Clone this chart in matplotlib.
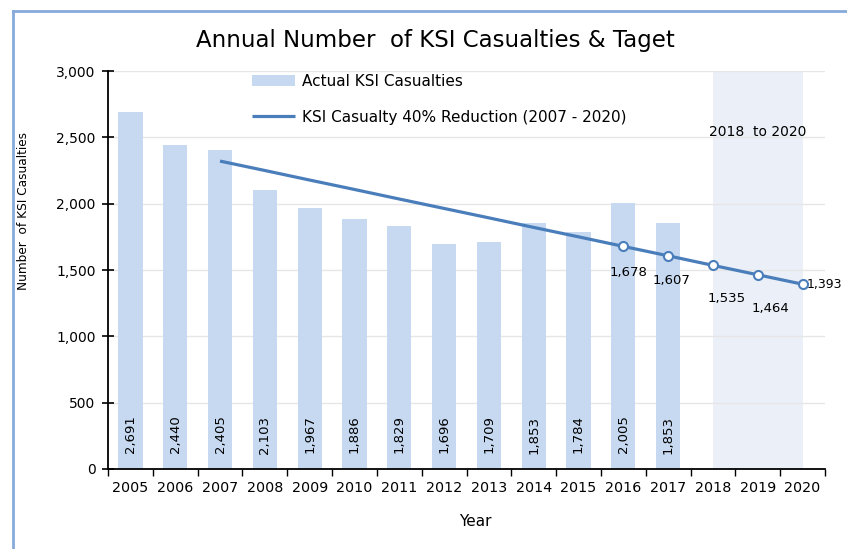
import matplotlib
matplotlib.use("Agg")
import matplotlib.pyplot as plt
import numpy as np
from matplotlib.lines import Line2D

plt.rcParams['font.family'] = ['DejaVu Sans']

years = ['2005', '2006', '2007', '2008', '2009', '2010', '2011', '2012',
         '2013', '2014', '2015', '2016', '2017', '2018', '2019', '2020']
actual = [2691, 2440, 2405, 2103, 1967, 1886, 1829, 1696, 1709, 1853, 1784, 2005, 1853]
actual_labels = ['2,691', '2,440', '2,405', '2,103', '1,967', '1,886', '1,829', '1,696',
                 '1,709', '1,853', '1,784', '2,005', '1,853']
target_years = ['2007', '2008', '2009', '2010', '2011', '2012', '2013', '2014',
                '2015', '2016', '2017', '2018', '2019', '2020']
target = [2321, 2250, 2178, 2107, 2035, 1964, 1893, 1821, 1750, 1678, 1607, 1535, 1464, 1393]
marked_years = ['2016', '2017', '2018', '2019', '2020']
marked_labels = ['1,678', '1,607', '1,535', '1,464', '1,393']
# label offsets in pixels (dx, dy)
label_offsets = [(5, -26), (3, -25), (14, -33), (13, -34), (4, 0)]
label_ha = ['center', 'center', 'center', 'center', 'left']
label_sizes = [9.5, 9.5, 9.5, 9.5, 9]

bar_color = '#C6D9F1'
line_color = '#4A7EBB'
shade_color = '#EBF0F8'

W, H = 847, 549
fig = plt.figure(figsize=(W / 100, H / 100), dpi=100)
ax = fig.add_axes([108 / W, 1 - 469 / H, 717 / W, 398 / H])

x_all = np.arange(len(years))
idx = {y: i for i, y in enumerate(years)}

ax.axvspan(idx['2018'], idx['2020'], ymin=0, ymax=1, color=shade_color, zorder=0.5, lw=0)
ax.set_axisbelow(True)
ax.yaxis.grid(True, color='#E6E6E6', lw=1.0, zorder=0)

bx = x_all[:len(actual)]
bars = ax.bar(bx, actual, width=0.54, color=bar_color, zorder=2, label='Actual KSI Casualties')
for xi, lab in zip(bx, actual_labels):
    ax.text(xi, 260, lab, rotation=90, ha='center', va='center', fontsize=9.5, zorder=5)

tx = [idx[y] for y in target_years]
line, = ax.plot(tx, target, color=line_color, lw=2.3, zorder=3, solid_capstyle='butt',
                label='KSI Casualty 40% Reduction (2007 - 2020)')
mx = [idx[y] for y in marked_years]
my = [target[target_years.index(y)] for y in marked_years]
ax.plot(mx, my, ls='none', marker='o', ms=6.5, mfc='white', mec=line_color, mew=1.5, zorder=4)
for xi, yi, lab, (dx, dy), ha, fs in zip(mx, my, marked_labels, label_offsets, label_ha, label_sizes):
    ax.annotate(lab, (xi, yi), xytext=(dx * 0.72, dy * 0.72), textcoords='offset points',
                ha=ha, va='center', fontsize=fs, zorder=6, annotation_clip=False)

ax.text(idx['2019'], 2540, '2018  to 2020', ha='center', va='center', fontsize=10)

ax.set_xlim(-0.5, len(years) - 0.5)
ax.set_ylim(0, 3000)
ax.set_yticks(np.arange(0, 3001, 500))
ax.set_yticklabels(['0', '500', '1,000', '1,500', '2,000', '2,500', '3,000'])
ax.set_xticks(x_all)
ax.set_xticklabels(years)
ax.set_xticks(np.arange(-0.5, len(years), 1), minor=True)
ax.tick_params(axis='x', which='major', length=0, pad=9, labelsize=10.3)
ax.tick_params(axis='x', which='minor', length=5, width=1, direction='out')
ax.tick_params(axis='y', which='major', length=8, width=1.2, direction='inout', pad=5, labelsize=10)

for s in ['top', 'right']:
    ax.spines[s].set_visible(False)
ax.spines['left'].set_linewidth(1.3)
ax.spines['bottom'].set_linewidth(1.3)

ax.set_ylabel('Number  of KSI Casualties', fontsize=8.7)
ax.yaxis.set_label_coords((30 - 108) / 717, (469 - 211) / 398)
ax.set_xlabel('Year', fontsize=11)
ax.xaxis.set_label_coords((475 - 108) / 717, (469 - 514) / 398)

fig.text(435 / W, 1 - 40 / H, 'Annual Number  of KSI Casualties & Taget', ha='center', va='center',
         fontsize=16.5)

ax.legend(handles=[bars, line], loc='upper left', bbox_to_anchor=(252 / W, 1 - 74 / H),
          bbox_transform=fig.transFigure, frameon=False, fontsize=11, handlelength=2.8,
          handletextpad=0.45, labelspacing=1.35, borderpad=0, borderaxespad=0)

# outer chart border
bx0 = 13 / W
by0 = 1 - 11 / H
fig.add_artist(Line2D([bx0, bx0], [0, by0], transform=fig.transFigure, color='#86ABDB', lw=2))
fig.add_artist(Line2D([bx0, 1], [by0, by0], transform=fig.transFigure, color='#86ABDB', lw=2))

fig.savefig('out.png', dpi=100)
